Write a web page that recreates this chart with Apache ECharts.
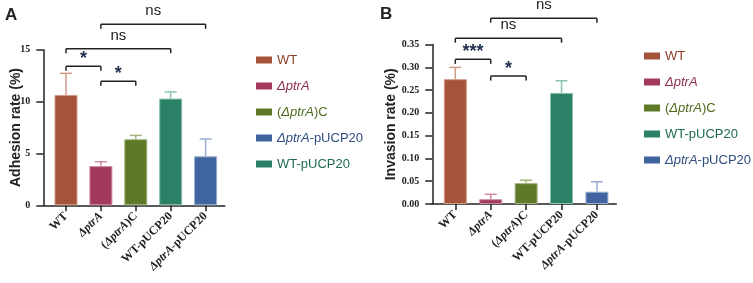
<!DOCTYPE html>
<html>
<head>
<meta charset="utf-8">
<script src="https://cdn.jsdelivr.net/npm/echarts@6/dist/echarts.min.js"></script>
<style>
  html, body { margin: 0; padding: 0; background: #fff; }
  #main { width: 753px; height: 283px; }
</style>
</head>
<body>
<div id="main"></div>
<script>
// groups, in bar order
var categories = ['WT', 'ΔptrA', '(ΔptrA)C', 'WT-pUCP20', 'ΔptrA-pUCP20'];

// panel A: adhesion rate (%)
var adhesionMean = [10.64, 3.78, 6.37, 10.29, 4.72];
var adhesionErr = [2.08, 0.42, 0.37, 0.64, 1.67];
var adhesionTicks = [0, 5, 10, 15];

// panel B: invasion rate (%)
var invasionMean = [0.274, 0.0105, 0.0458, 0.244, 0.027];
var invasionErr = [0.026, 0.0108, 0.0064, 0.0266, 0.0218];
var invasionTicks = [0, 0.05, 0.10, 0.15, 0.20, 0.25, 0.30, 0.35];

// significance brackets: [from bar, to bar], level in axis units, label
var sigPairsA = [[0, 1], [1, 2], [0, 3], [1, 4]];
var sigLevelsA = [13.4, 11.95, 15.1, 17.45];
var sigLabelsA = ['*', '*', 'ns', 'ns'];

var sigPairsB = [[0, 1], [1, 2], [0, 3], [1, 4]];
var sigLevelsB = [0.3176, 0.2808, 0.364, 0.408];
var sigLabelsB = ['***', '*', 'ns', 'ns'];

var legendOrderA = ['WT', 'ΔptrA', '(ΔptrA)C', 'ΔptrA-pUCP20', 'WT-pUCP20'];
var legendOrderB = ['WT', 'ΔptrA', '(ΔptrA)C', 'WT-pUCP20', 'ΔptrA-pUCP20'];

var barColors = ['#a5543a', '#a3395f', '#5e7a28', '#2b8068', '#3f64a0'];
var edgeColors = ['#cf9a86', '#cf8aa3', '#a3b57e', '#8cc2b0', '#97aed0'];
var textColors = ['#8e3b28', '#8a2a4f', '#4d6a1c', '#1e6a52', '#2e4d80'];

var serif = 'Liberation Serif';
var sans = 'Liberation Sans';

function italicName(name) {
  return name.replace('ΔptrA', '{i|ΔptrA}');
}

function xAxisFor(gridIndex) {
  return {
    gridIndex: gridIndex,
    type: 'value',
    min: -0.65,
    max: 4.55,
    splitLine: { show: false },
    axisLine: { onZero: false, lineStyle: { color: '#222', width: 1.5 } },
    axisTick: {
      customValues: [0, 1, 2, 3, 4],
      length: 6,
      lineStyle: { color: '#222', width: 1.5 }
    },
    axisLabel: {
      customValues: [0, 1, 2, 3, 4],
      rotate: 45,
      margin: 9,
      fontFamily: serif,
      fontWeight: 'bold',
      fontSize: 12,
      color: '#222',
      formatter: function (v) {
        return italicName(categories[Math.round(v)]);
      },
      rich: {
        i: { fontFamily: serif, fontWeight: 'bold', fontStyle: 'italic', fontSize: 12, color: '#222' }
      }
    }
  };
}

function yAxisFor(gridIndex, ticks, name, gap, digits) {
  return {
    gridIndex: gridIndex,
    type: 'value',
    min: ticks[0],
    max: ticks[ticks.length - 1],
    interval: ticks[1] - ticks[0],
    name: name,
    nameLocation: 'middle',
    nameGap: gap,
    nameMoveOverlap: false,
    nameTextStyle: { fontFamily: sans, fontWeight: 'bold', fontSize: 14, color: '#222' },
    splitLine: { show: false },
    axisLine: { show: true, onZero: false, lineStyle: { color: '#222', width: 1.5 } },
    axisTick: { show: true, length: 7, lineStyle: { color: '#222', width: 1.5 } },
    axisLabel: {
      margin: 13,
      fontFamily: serif,
      fontWeight: 'bold',
      fontSize: 10,
      color: '#222',
      formatter: function (v) { return v.toFixed(digits); }
    }
  };
}

function barSeries(axisIndex, means) {
  return categories.map(function (name, i) {
    return {
      name: name,
      type: 'bar',
      xAxisIndex: axisIndex,
      yAxisIndex: axisIndex,
      barWidth: 23,
      barGap: '-100%',
      itemStyle: { color: barColors[i], borderColor: edgeColors[i], borderWidth: 1 },
      data: [[i, means[i]]]
    };
  });
}

function errorSeries(axisIndex, means, errs) {
  return {
    type: 'custom',
    xAxisIndex: axisIndex,
    yAxisIndex: axisIndex,
    z: 1,
    renderItem: function (params, api) {
      var i = api.value(0);
      var base = api.coord([i, api.value(1)]);
      var top = api.coord([i, api.value(1) + api.value(2)]);
      var style = { stroke: edgeColors[params.dataIndex], lineWidth: 1.5 };
      return {
        type: 'group',
        children: [
          { type: 'line', shape: { x1: base[0], y1: base[1], x2: top[0], y2: top[1] }, style: style },
          { type: 'line', shape: { x1: top[0] - 6, y1: top[1], x2: top[0] + 6, y2: top[1] }, style: style }
        ]
      };
    },
    data: means.map(function (m, i) { return [i, m, errs[i]]; })
  };
}

function sigSeries(axisIndex, pairs, levels, labels) {
  return {
    type: 'custom',
    xAxisIndex: axisIndex,
    yAxisIndex: axisIndex,
    clip: false,
    silent: true,
    renderItem: function (params, api) {
      var a = api.coord([api.value(0), api.value(2)]);
      var b = api.coord([api.value(1), api.value(2)]);
      var label = labels[params.dataIndex];
      var isStar = label.indexOf('*') === 0;
      var st = { stroke: '#222', lineWidth: 1.5 };
      return {
        type: 'group',
        children: [
          { type: 'line', shape: { x1: a[0], y1: a[1], x2: b[0], y2: b[1] }, style: st },
          { type: 'line', shape: { x1: a[0], y1: a[1], x2: a[0], y2: a[1] + 4.5 }, style: st },
          { type: 'line', shape: { x1: b[0], y1: b[1], x2: b[0], y2: b[1] + 4.5 }, style: st },
          {
            type: 'text',
            x: (a[0] + b[0]) / 2,
            y: a[1] - (isStar ? 7 : 13),
            style: {
              text: label,
              align: 'center',
              verticalAlign: 'middle',
              fontFamily: sans,
              fontWeight: isStar ? 'bold' : 'normal',
              fontSize: isStar ? 18 : 15,
              fill: isStar ? '#1f3050' : '#222'
            }
          }
        ]
      };
    },
    data: pairs.map(function (p, i) { return [p[0], p[1], levels[i]]; })
  };
}

function legendFor(order, left, top) {
  return {
    orient: 'vertical',
    left: left,
    top: top,
    icon: 'rect',
    itemWidth: 16,
    itemHeight: 7,
    itemGap: 12,
    selectedMode: false,
    itemStyle: { borderWidth: 0 },
    data: order.map(function (name) {
      var c = textColors[categories.indexOf(name)];
      return {
        name: name,
        textStyle: {
          color: c,
          fontFamily: sans,
          fontSize: 13,
          lineHeight: 14,
          rich: { i: { color: c, fontFamily: sans, fontSize: 13, fontStyle: 'italic', lineHeight: 14 } }
        }
      };
    }),
    formatter: function (name) { return italicName(name); }
  };
}

var chart = echarts.init(document.getElementById('main'));

var option = {
  animation: false,
  backgroundColor: '#fff',
  grid: [
    { left: 43.3, top: 49.7, width: 181.5, height: 155.6 },
    { left: 432.3, top: 44.6, width: 184.1, height: 159.4 }
  ],
  xAxis: [xAxisFor(0), xAxisFor(1)],
  yAxis: [
    yAxisFor(0, adhesionTicks, 'Adhesion rate (%)', 20, 0),
    yAxisFor(1, invasionTicks, 'Invasion rate (%)', 34, 2)
  ],
  legend: [
    legendFor(legendOrderA, 251, 48),
    legendFor(legendOrderB, 639, 44)
  ],
  graphic: [
    { type: 'text', left: 5, top: 7, style: { text: 'A', fontFamily: sans, fontWeight: 'bold', fontSize: 17, fill: '#222' } },
    { type: 'text', left: 380, top: 6, style: { text: 'B', fontFamily: sans, fontWeight: 'bold', fontSize: 17, fill: '#222' } }
  ],
  series: []
    .concat(barSeries(0, adhesionMean))
    .concat([errorSeries(0, adhesionMean, adhesionErr), sigSeries(0, sigPairsA, sigLevelsA, sigLabelsA)])
    .concat(barSeries(1, invasionMean))
    .concat([errorSeries(1, invasionMean, invasionErr), sigSeries(1, sigPairsB, sigLevelsB, sigLabelsB)])
};

chart.setOption(option);
</script>
</body>
</html>
